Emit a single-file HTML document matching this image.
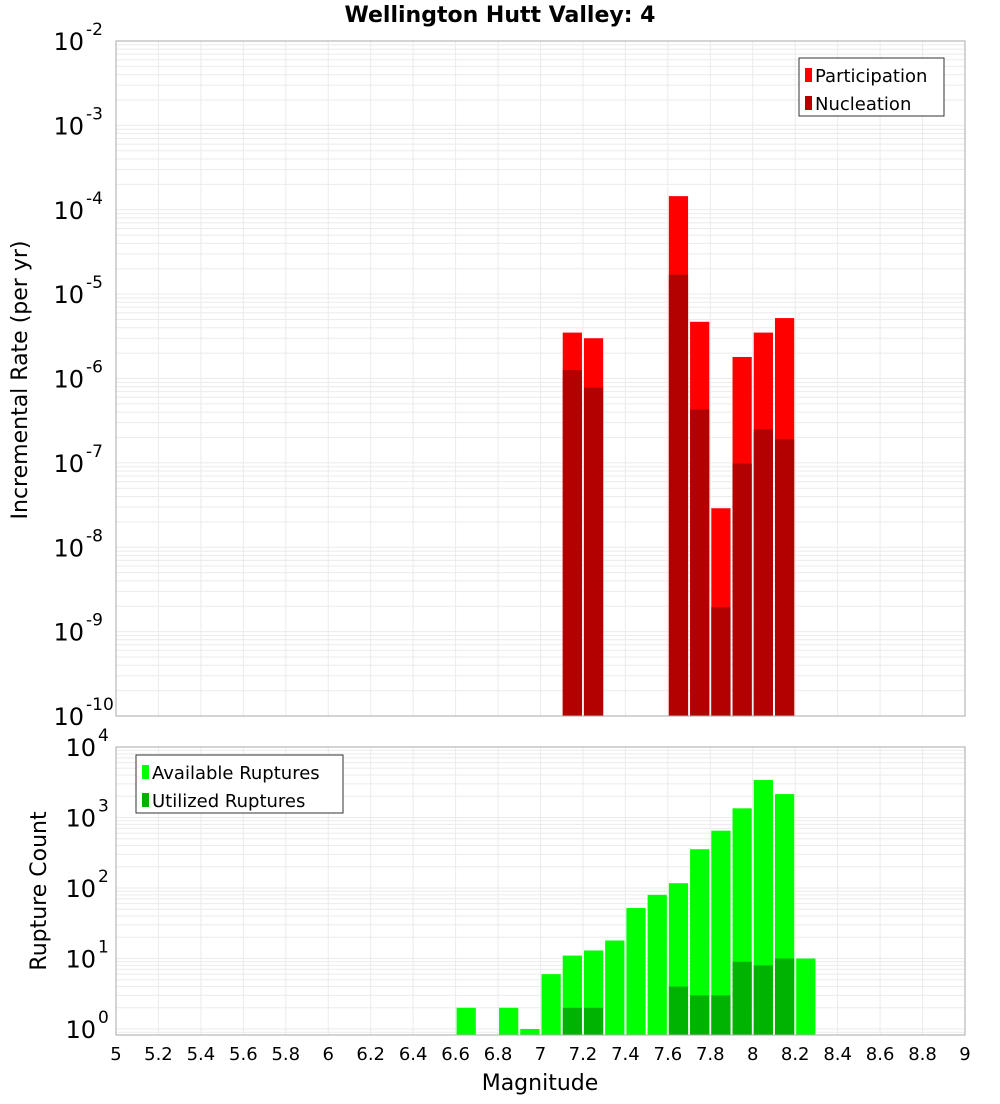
<!DOCTYPE html>
<html><head><meta charset="utf-8"><style>
body{margin:0;background:#fff;font-family:"DejaVu Sans","Liberation Sans",sans-serif;}
</style></head><body>
<svg id="c" width="1000" height="1100" xmlns="http://www.w3.org/2000/svg" font-family="DejaVu Sans, Liberation Sans, sans-serif"></svg>
<script>
const mags=[6.65,6.85,6.95,7.05,7.15,7.25,7.35,7.45,7.55,7.65,7.75,7.85,7.95,8.05,8.15,8.25];
const rateMags=[7.15,7.25,7.65,7.75,7.85,7.95,8.05,8.15];
const participation=[3.5e-6,3.0e-6,1.45e-4,4.7e-6,2.9e-8,1.8e-6,3.5e-6,5.2e-6];
const nucleation=[1.26e-6,7.8e-7,1.7e-5,4.3e-7,1.95e-9,9.8e-8,2.5e-7,1.9e-7];
const available=[2,2,1,6,11,13,18,52,80,117,355,650,1350,3400,2150,10];
const utilizedMags=[7.15,7.25,7.65,7.75,7.85,7.95,8.05,8.15];
const utilized=[2,2,4,3,3,9,8,10];
const xTicks=[5,5.2,5.4,5.6,5.8,6,6.2,6.4,6.6,6.8,7,7.2,7.4,7.6,7.8,8,8.2,8.4,8.6,8.8,9];

const svg=document.getElementById('c');const NS='http://www.w3.org/2000/svg';
function el(t,a,p){const e=document.createElementNS(NS,t);for(const k in a)e.setAttribute(k,a[k]);(p||svg).appendChild(e);return e;}
const X0=116,X1=965;
const x=m=>X0+(m-5)/4*(X1-X0);
const pTop={y0:41,y1:716,lmin:-10,lmax:-2};
const pBot={y0:747,y1:1035,lmin:-0.085,lmax:4};
const yf=(p,v)=>p.y1-(Math.log10(v)-p.lmin)/(p.lmax-p.lmin)*(p.y1-p.y0);

function panel(p,name){
  const g=el('g',{},svg);
  for(let d=Math.floor(p.lmin);d<p.lmax;d++)for(let k=1;k<10;k++){const v=k*Math.pow(10,d);const lv=Math.log10(v);if(lv<p.lmin||lv>p.lmax)continue;const yy=yf(p,v);
    const l=el('line',{x1:X0,x2:X1,y1:yy,y2:yy,stroke:'#ebebeb','stroke-width':1},g);}
  xTicks.forEach(t=>{const l=el('line',{x1:x(t),x2:x(t),y1:p.y0,y2:p.y1,stroke:'#ebebeb','stroke-width':1},g);});
  return g;
}
function bar(g,m,v,p,col,name){
  const y=yf(p,v);const r=el('rect',{x:x(m-0.05)+1,y:y,width:x(m+0.05)-x(m-0.05)-2,height:p.y1-y,fill:col},g);
  
}
function frame(p){const r=el('rect',{x:X0,y:p.y0,width:X1-X0,height:p.y1-p.y0,fill:'none',stroke:'#aaa','stroke-width':1});}
function ylabels(p,from,to,dx){
  for(let d=from;d<=to;d++){const yy=yf(p,Math.pow(10,d));
    const t=el('text',{x:X0-6-dx,y:yy+9,'text-anchor':'end','font-size':24,fill:'#000'});t.textContent='10';
    
    const s=el('text',{x:X0-4-dx,y:yy-6,'text-anchor':'start','font-size':17,fill:'#000'});s.textContent=String(d);
    }
}
const g1=panel(pTop,'rate-plot');
rateMags.forEach((m,i)=>bar(g1,m,participation[i],pTop,'#ff0000','participation-bar'));
rateMags.forEach((m,i)=>bar(g1,m,nucleation[i],pTop,'#b30000','nucleation-bar'));
frame(pTop);
const g2=panel(pBot,'count-plot');
mags.forEach((m,i)=>bar(g2,m,available[i],pBot,'#00ff00','available-bar'));
utilizedMags.forEach((m,i)=>bar(g2,m,utilized[i],pBot,'#00b300','utilized-bar'));
frame(pBot);
ylabels(pTop,-10,-2,26);ylabels(pBot,0,4,14);
xTicks.forEach(t=>{const tx=el('text',{x:x(t),y:1060,'text-anchor':'middle','font-size':18,fill:'#000'});tx.textContent=String(t);});
function txt(s,a,name){const t=el('text',a);t.textContent=s;return t;}
txt('Wellington Hutt Valley: 4',{x:500,y:22,'text-anchor':'middle','font-size':22,'font-weight':'bold'},'chart-title');
txt('Magnitude',{x:540,y:1090,'text-anchor':'middle','font-size':22},'x-axis-title');
txt('Incremental Rate (per yr)',{x:0,y:0,transform:'translate(27,380) rotate(-90)','text-anchor':'middle','font-size':22},'y-axis-title-top');
txt('Rupture Count',{x:0,y:0,transform:'translate(46,891) rotate(-90)','text-anchor':'middle','font-size':22},'y-axis-title-bottom');
function legend(x0,y0,w,items,name){
  const g=el('g',{});
  el('rect',{x:x0,y:y0,width:w,height:58,fill:'#fff',stroke:'#333','stroke-width':1},g);
  items.forEach((it,i)=>{const yy=y0+18+i*28;el('rect',{x:x0+6,y:yy-8,width:7,height:14,fill:it[1]},g);
    const t=el('text',{x:x0+16,y:yy+6,'font-size':18},g);t.textContent=it[0];});
}
legend(799,58,145,[['Participation','#ff0000'],['Nucleation','#b30000']],'rate-legend');
legend(136,755,207,[['Available Ruptures','#00ff00'],['Utilized Ruptures','#00b300']],'count-legend');
</script>
</body></html>
